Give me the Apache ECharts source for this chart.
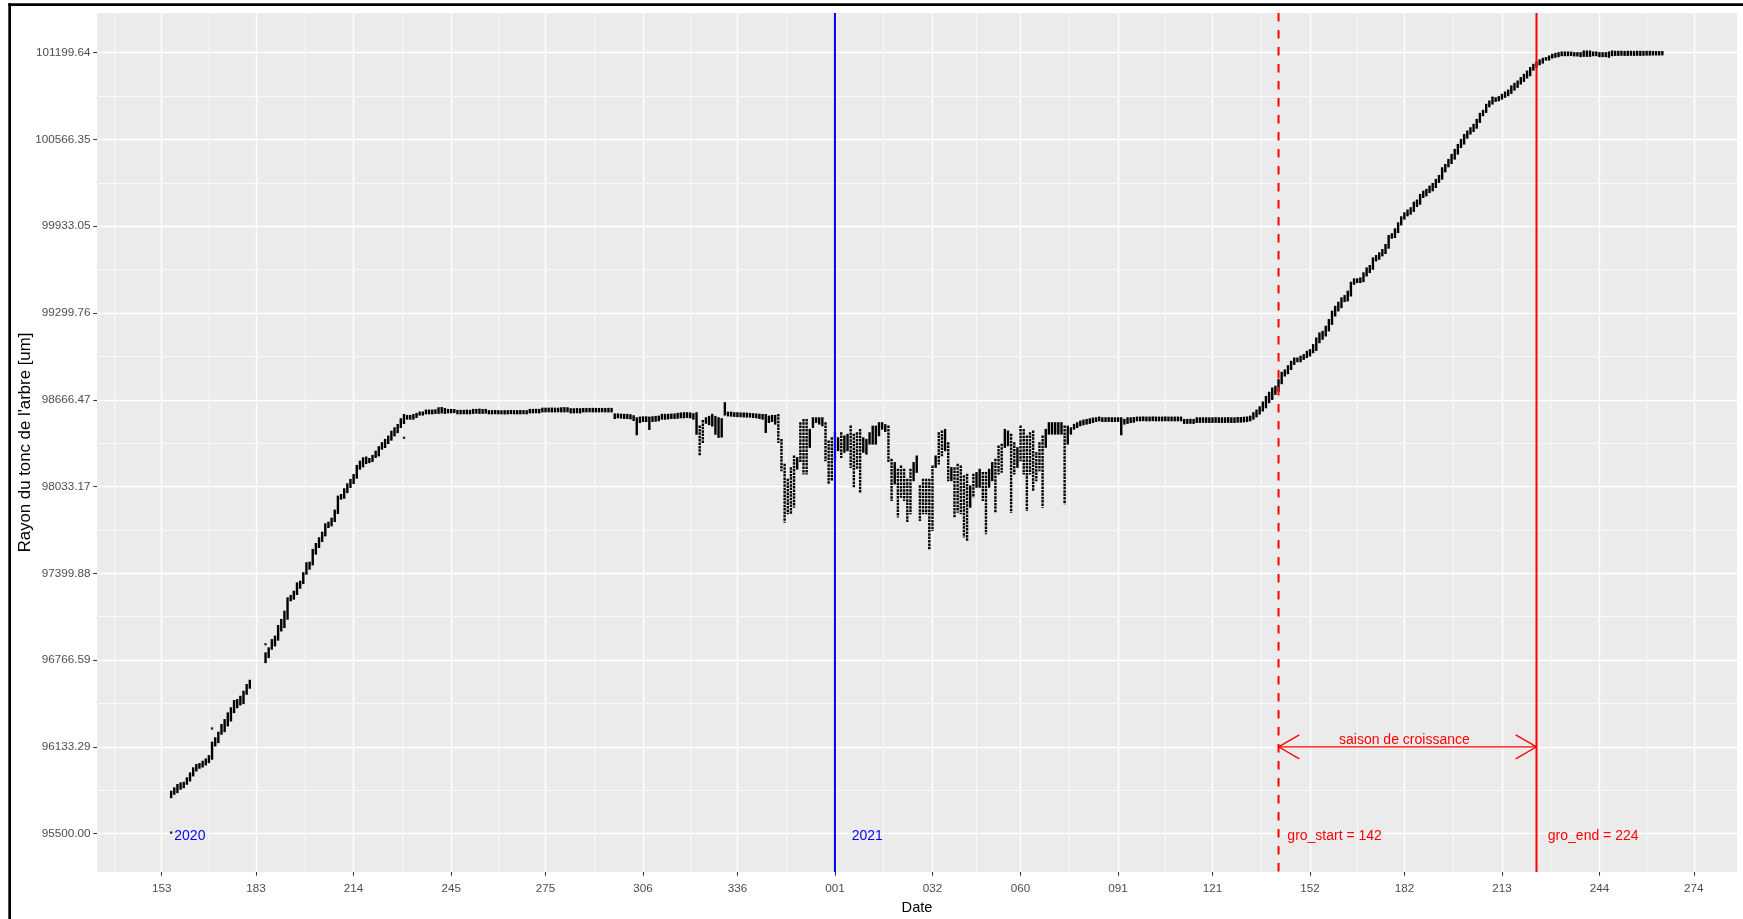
<!DOCTYPE html>
<html>
<head>
<meta charset="utf-8">
<script src="https://cdn.jsdelivr.net/npm/echarts@6/dist/echarts.min.js"></script>
<style>
html,body{margin:0;padding:0;background:#fff;}
#chart{width:1743px;height:919px;}
</style>
</head>
<body>
<div id="chart"></div>
<script>
// ---- axis ticks (day index: 2020 day-of-year, 2021 = 366 + day-of-year) ----
const xTickValues = [153,183,214,245,275,306,336,367,398,426,457,487,518,548,579,610,640];
const xTickLabels = ['153','183','214','245','275','306','336','001','032','060','091','121','152','182','213','244','274'];
const yTickValues = [95500.00,96133.29,96766.59,97399.88,98033.17,98666.47,99299.76,99933.05,100566.35,101199.64];

// ---- daily radius readings (min / max of the day), first day = 156 ----
const firstDay = 156;
const dayMin = [
95767,95792,95804,95829,95840,95865,95889,95926,95962,95982,
95991,96006,96023,96048,96145,96169,96230,96249,96291,96327,
96388,96424,96444,96454,96522,96566,null,null,null,null,
96753,96790,96851,96875,96917,96984,97009,97070,97204,97216,
97250,97296,97330,97399,97435,97466,97545,97593,97637,97678,
97739,97751,97783,97841,97946,97953,97994,98031,98060,98099,
98165,98182,98206,98213,98221,98250,98262,98311,98323,98352,
98377,98408,98432,98469,98498,98530,98530,98530,98542,98560,
98560,98569,98569,98569,98572,98572,98575,98572,98576,98576,
98578,98569,98569,98570,98569,98569,98572,98574,98572,98572,
98574,98569,98569,98570,98569,98569,98568,98569,98570,98569,
98569,98569,98570,98569,98576,98576,98577,98576,98583,98583,
98584,98583,98583,98584,98583,98583,98584,98576,98576,98577,
98576,98583,98583,98584,98583,98583,98583,98584,98583,98583,
98583,98535,98540,98538,98535,98535,98532,98520,98416,98505,
98513,98513,98455,98513,98515,98518,98530,98530,98532,98535,
98535,98537,98540,98540,98542,98540,98530,98420,98270,98355,
98500,98490,98480,98420,98397,98400,98560,98554,98552,98550,
98548,98548,98546,98545,98545,98542,98540,98535,98530,98433,
98506,98513,98494,98360,98154,97778,97839,97839,97887,98166,
98215,98130,98130,98324,98469,98506,98494,98482,98227,98057,
98081,98227,98300,98251,98288,98300,98178,98033,98166,97996,
98288,98275,98348,98348,98348,98409,98457,98440,98215,97936,
98057,97815,97960,97936,97778,97839,98081,98142,97790,97839,
97839,97584,97717,98178,98203,98263,98300,98081,98081,97815,
97851,97839,97669,97645,97887,97960,98033,98033,97936,97693,
98033,98081,97851,98130,98142,98324,98336,97851,98130,98178,
98227,98130,97863,98130,98009,98081,98154,97887,98324,98421,
98421,98421,98421,98421,97912,98348,98421,98457,98469,98482,
98489,98494,98499,98506,98513,98518,98513,98513,98514,98513,
98513,98514,98416,98494,98499,98505,98508,98518,98518,98519,
98518,98518,98519,98518,98518,98518,98519,98518,98518,98518,
98518,98518,98499,98499,98500,98499,98506,98506,98507,98506,
98506,98506,98507,98506,98506,98506,98507,98506,98506,98508,
98508,98510,98512,98518,98530,98547,98567,98590,98613,98650,
98674,98711,98735,98789,98845,98862,98893,98930,98949,98949,
98966,98979,98991,99015,99032,99088,99113,99137,99174,99222,
99283,99320,99344,99388,99393,99429,99515,99527,99527,99534,
99575,99600,99624,99685,99697,99722,99739,99778,99851,99856,
99892,99948,99990,100014,100026,100046,100082,100099,100148,100160,
100184,100197,100221,100258,100282,100335,100372,100396,100428,100465,
100513,100538,100581,100611,100630,100654,100696,100745,100769,100810,
100830,100849,100854,100866,100879,100891,100908,100932,100952,100976,
100995,101020,101037,101078,101098,101117,101129,101151,101151,101166,
101171,101176,101183,101183,101183,101184,101181,101181,101176,101178,
101178,101178,101183,101183,101176,101176,101176,101171,101183,101185,
101185,101186,101185,101185,101186,101185,101186,101185,101186,101187,
101187,101188,101188,101188,101189
];
const dayMax = [
95804,95829,95853,95865,95869,95902,95938,95975,95999,96006,
96023,96040,96064,96162,96194,96235,96291,96327,96376,96413,
96466,96473,96497,96534,96583,96614,null,null,null,null,
96814,96851,96911,96936,97014,97058,97118,97216,97233,97264,
97325,97337,97399,97472,97476,97569,97612,97654,97695,97756,
97768,97797,97856,97958,97970,98012,98048,98080,98116,98182,
98213,98238,98243,98233,98255,98286,98319,98348,98372,98396,
98432,98457,98481,98523,98554,98547,98547,98554,98562,98572,
98572,98586,98586,98586,98588,98603,98605,98598,98591,98591,
98590,98584,98584,98584,98586,98584,98591,98591,98593,98590,
98591,98582,98582,98583,98582,98581,98582,98582,98583,98582,
98582,98583,98582,98582,98591,98591,98592,98591,98600,98600,
98600,98601,98600,98600,98603,98604,98603,98596,98596,98597,
98596,98598,98598,98598,98599,98598,98598,98598,98598,98599,
98598,98558,98558,98556,98555,98555,98552,98545,98530,98535,
98537,98537,98535,98537,98540,98542,98555,98555,98555,98557,
98558,98562,98565,98567,98567,98565,98560,98567,98470,98510,
98530,98540,98555,98540,98530,98523,98640,98571,98571,98567,
98567,98565,98565,98564,98562,98560,98558,98556,98554,98554,
98542,98547,98547,98554,98372,98190,98081,98166,98251,98239,
98494,98518,98518,98445,98530,98530,98530,98530,98494,98360,
98384,98421,98384,98421,98397,98409,98469,98409,98421,98445,
98384,98372,98421,98469,98469,98494,98494,98480,98469,98227,
98203,98154,98178,98154,98081,98154,98203,98251,98033,98081,
98081,98081,98178,98251,98421,98433,98445,98348,98166,98166,
98190,98178,98106,98118,98033,98118,98130,98154,98130,98130,
98154,98203,98227,98324,98336,98445,98433,98409,98348,98312,
98469,98445,98397,98421,98433,98275,98348,98397,98445,98494,
98494,98494,98494,98494,98469,98469,98457,98482,98494,98506,
98513,98518,98523,98528,98530,98535,98530,98530,98531,98530,
98530,98530,98530,98518,98530,98530,98532,98535,98535,98536,
98535,98535,98536,98535,98535,98535,98536,98535,98535,98535,
98535,98535,98518,98518,98519,98518,98530,98530,98530,98530,
98530,98530,98531,98530,98530,98530,98531,98530,98530,98532,
98532,98534,98536,98542,98567,98586,98610,98645,98686,98716,
98747,98760,98808,98862,98879,98910,98942,98966,98966,98979,
98991,99015,99027,99064,99113,99149,99161,99198,99247,99308,
99344,99373,99405,99422,99454,99519,99544,99544,99551,99588,
99624,99641,99697,99714,99734,99758,99795,99860,99873,99909,
99953,99997,100026,100046,100063,100104,100119,100160,100184,100197,
100221,100240,100270,100299,100355,100379,100416,100452,100489,100525,
100562,100598,100623,100647,100672,100708,100752,100774,100818,100842,
100871,100866,100874,100891,100908,100922,100952,100971,100988,101013,
101037,101061,101086,101110,101127,101142,101154,101159,101171,101183,
101190,101195,101200,101200,101200,101199,101195,101195,101195,101207,
101207,101207,101200,101200,101195,101195,101195,101200,101207,101205,
101205,101205,101204,101205,101205,101204,101205,101205,101204,101205,
101205,101204,101203,101203,101203
];
// isolated single readings
const extraDays = [156, 169, 186, 230];
const extraValues = [95507, 96267, 96882, 98389];

// ---- annotations ----
const yearStartDay = 367;            // 2021-01-01
const growthStartDoy = 142;
const growthEndDoy = 224;
const yearLabels = ['2020', '2021'];
const yearLabelDays = [157, 372.3];
const labelValue = 95500;
const seasonLabel = 'saison de croissance';
const seasonArrowValue = 96133.29;
const seasonLabelDay = 548;
const seasonLabelValue = 96186;

// ---- derived ----
const groStart = 366 + growthStartDoy;
const groEnd = 366 + growthEndDoy;
const barData = [];
for (let i = 0; i < dayMin.length; i++) {
  if (dayMin[i] == null) continue;
  barData.push([firstDay + i, dayMin[i], dayMax[i]]);
}
const extraData = extraDays.map((d, i) => [d, extraValues[i]]);
const xMinor = [];
xMinor.push(xTickValues[0] - (xTickValues[1] - xTickValues[0]) / 2);
for (let i = 0; i < xTickValues.length - 1; i++) xMinor.push((xTickValues[i] + xTickValues[i + 1]) / 2);
const yMinor = [];
for (let i = 0; i < yTickValues.length - 1; i++) yMinor.push((yTickValues[i] + yTickValues[i + 1]) / 2);

const xMin = 132.43, xMax = 653.73;
const yMin = 95219.6, yMax = 101489.5;
const FONT = "'Liberation Sans', Arial, sans-serif";

const textData = [
  [yearLabelDays[0], labelValue, yearLabels[0], '#0000FF'],
  [yearLabelDays[1], labelValue, yearLabels[1], '#0000FF'],
  [groStart + 2.8, labelValue, 'gro_start = ' + growthStartDoy, '#FF0000'],
  [groEnd + 3.6, labelValue, 'gro_end = ' + growthEndDoy, '#FF0000']
];

const chart = echarts.init(document.getElementById('chart'), null, {renderer: 'canvas'});
chart.setOption({
  animation: false,
  backgroundColor: '#FFFFFF',
  grid: {left: 97, right: 6, top: 13, bottom: 47, show: true, backgroundColor: '#EBEBEB', borderWidth: 0, containLabel: false, outerBoundsMode: 'none'},
  xAxis: [{
    type: 'value', min: xMin, max: xMax, gridIndex: 0,
    axisLine: {show: false},
    axisTick: {show: true, customValues: xTickValues, length: 3.7, lineStyle: {color: '#333333', width: 1.07}},
    axisLabel: {customValues: xTickValues, margin: 10.5, color: '#4D4D4D', fontSize: 11.7, fontFamily: FONT,
      formatter: function (v) { const k = xTickValues.indexOf(v); return k >= 0 ? xTickLabels[k] : ''; }},
    splitLine: {show: true, lineStyle: {color: '#FFFFFF', width: 1.4}},
    name: 'Date', nameLocation: 'middle', nameGap: 28, nameMoveOverlap: false,
    nameTextStyle: {color: '#000000', fontSize: 14.6, fontFamily: FONT}
  }, {
    type: 'value', min: xMin, max: xMax, gridIndex: 0, position: 'bottom',
    axisLine: {show: false},
    axisTick: {show: false, customValues: xMinor},
    axisLabel: {show: false, customValues: xMinor},
    splitLine: {show: true, lineStyle: {color: '#FFFFFF', width: 0.7}}
  }],
  yAxis: [{
    type: 'value', min: yMin, max: yMax, gridIndex: 0,
    axisLine: {show: false},
    axisTick: {show: true, customValues: yTickValues, length: 3.7, lineStyle: {color: '#333333', width: 1.07}},
    axisLabel: {customValues: yTickValues, margin: 6.6, color: '#4D4D4D', fontSize: 11.7, fontFamily: FONT,
      padding: [5, 0, 0, 0],
      formatter: function (v) { return v.toFixed(2); }},
    splitLine: {show: true, lineStyle: {color: '#FFFFFF', width: 1.4}},
    name: "Rayon du tonc de l'arbre [um]", nameLocation: 'middle', nameGap: 63, nameRotate: 90, nameMoveOverlap: false,
    nameTextStyle: {color: '#000000', fontSize: 16.8, fontFamily: FONT}
  }, {
    type: 'value', min: yMin, max: yMax, gridIndex: 0, position: 'left',
    axisLine: {show: false},
    axisTick: {show: false, customValues: yMinor},
    axisLabel: {show: false, customValues: yMinor},
    splitLine: {show: true, lineStyle: {color: '#FFFFFF', width: 0.7}}
  }],
  graphic: [
    {type: 'rect', shape: {x: 8.3, y: 3.3, width: 2.7, height: 919}, style: {fill: '#000'}, z: 100},
    {type: 'rect', shape: {x: 8.3, y: 3.3, width: 1743, height: 2.7}, style: {fill: '#000'}, z: 100}
  ],
  series: [
    {
      type: 'custom', name: 'rayon', xAxisIndex: 0, yAxisIndex: 0, clip: true,
      data: barData,
      renderItem: function (params, api) {
        const x = api.value(0), lo = api.value(1), hi = api.value(2);
        const top = api.coord([x, hi]), bot = api.coord([x, lo]);
        const w = 2.4, pad = 1.2;
        if (hi - lo > 150) {
          return {type: 'line', shape: {x1: top[0], y1: top[1] - pad, x2: top[0], y2: bot[1] + pad},
            style: {stroke: '#000', lineWidth: w, lineDash: [2.5, 0.9]}};
        }
        return {type: 'rect', shape: {x: top[0] - w / 2, y: top[1] - pad, width: w, height: bot[1] - top[1] + 2 * pad},
          style: {fill: '#000'}};
      }
    },
    {
      type: 'scatter', xAxisIndex: 0, yAxisIndex: 0, data: extraData,
      symbol: 'rect', symbolSize: 2.4, itemStyle: {color: '#000'}, silent: true
    },
    {
      type: 'custom', xAxisIndex: 0, yAxisIndex: 0, clip: true, z: 5,
      data: [[yearStartDay, 0], [groStart, 1], [groEnd, 2]],
      renderItem: function (params, api) {
        const x = api.coord([api.value(0), yMin])[0];
        const cs = params.coordSys;
        const styles = [
          {stroke: '#0000FF', lineWidth: 2, lineDash: null},
          {stroke: '#FF0000', lineWidth: 2, lineDash: [8.5, 8.5]},
          {stroke: '#FF0000', lineWidth: 2, lineDash: null}
        ];
        return {type: 'line', shape: {x1: x, y1: cs.y, x2: x, y2: cs.y + cs.height}, style: styles[api.value(1)]};
      }
    },
    {
      type: 'custom', xAxisIndex: 0, yAxisIndex: 0, clip: false, z: 6,
      data: [[groStart, groEnd, seasonArrowValue]],
      renderItem: function (params, api) {
        const a = api.coord([api.value(0), api.value(2)]);
        const b = api.coord([api.value(1), api.value(2)]);
        const dx = 20.8, dy = 12;
        const st = {stroke: '#FF0000', lineWidth: 1.3, fill: null};
        return {type: 'group', children: [
          {type: 'line', shape: {x1: a[0], y1: a[1], x2: b[0], y2: b[1]}, style: st},
          {type: 'polyline', shape: {points: [[a[0] + dx, a[1] - dy], [a[0], a[1]], [a[0] + dx, a[1] + dy]]}, style: st},
          {type: 'polyline', shape: {points: [[b[0] - dx, b[1] - dy], [b[0], b[1]], [b[0] - dx, b[1] + dy]]}, style: st}
        ]};
      }
    },
    {
      type: 'custom', xAxisIndex: 0, yAxisIndex: 0, clip: false, z: 7,
      data: [[seasonLabelDay, seasonLabelValue]],
      renderItem: function (params, api) {
        const p = api.coord([api.value(0), api.value(1)]);
        return {type: 'text', x: p[0], y: p[1] + 1, style: {text: seasonLabel, fill: '#FF0000', font: '14px ' + FONT, align: 'center', verticalAlign: 'middle'}};
      }
    },
    {
      type: 'custom', xAxisIndex: 0, yAxisIndex: 0, clip: false, z: 7,
      data: textData.map(d => [d[0], d[1]]),
      renderItem: function (params, api) {
        const p = api.coord([api.value(0), api.value(1)]);
        const d = textData[params.dataIndex];
        return {type: 'text', x: p[0], y: p[1] + 2.5, style: {text: d[2], fill: d[3], font: '14px ' + FONT, align: 'left', verticalAlign: 'middle'}};
      }
    }
  ]
});
</script>
</body>
</html>
